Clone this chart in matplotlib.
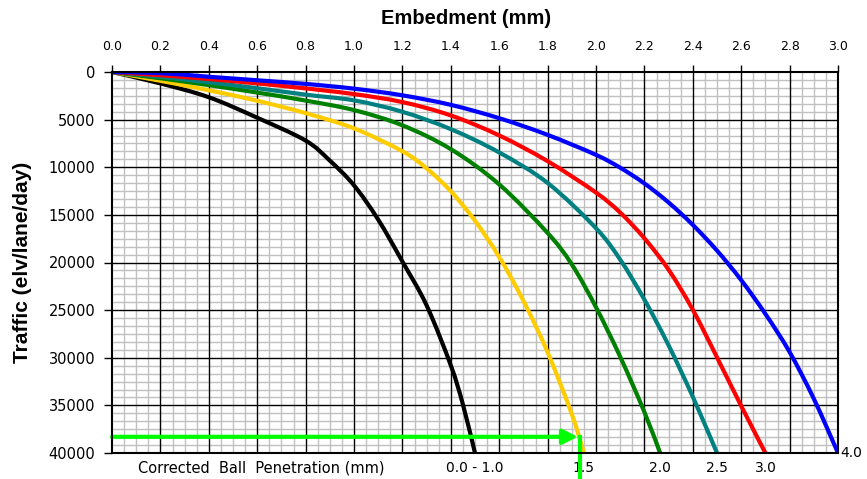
import numpy as np
import matplotlib
matplotlib.use('Agg')
import matplotlib.pyplot as plt
from matplotlib.ticker import MultipleLocator, FormatStrFormatter
from matplotlib.path import Path
from matplotlib.patches import PathPatch
import matplotlib.transforms as mtransforms

plt.rcParams['font.family'] = ['DejaVu Sans']

# embedment (mm) vs traffic for each ball penetration class
black_x = [0, 0.2, 0.4, 0.6, 0.8, 0.9, 1.0, 1.1, 1.2, 1.3, 1.4, 1.45, 1.5]
black_y = [0, 1200, 2650, 4800, 7200, 9300, 11900, 15500, 19900, 24500, 30800, 34900, 40000]

gold_x = [0, 0.2, 0.4, 0.6, 0.8, 1.0, 1.2, 1.3, 1.4, 1.5, 1.6, 1.7, 1.8, 1.9, 1.95]
gold_y = [0, 920, 1920, 3020, 4320, 5920, 8320, 10120, 12520, 15620, 19420, 24020, 29420, 35920, 40000]

green_x = [0, 0.2, 0.4, 0.6, 0.8, 1.0, 1.2, 1.4, 1.6, 1.8, 1.9, 2.0, 2.1, 2.2, 2.265]
green_y = [0, 660, 1380, 2160, 3000, 4000, 5600, 8100, 11800, 16900, 20200, 24700, 29900, 35700, 40000]

teal_x = [0, 0.2, 0.4, 0.6, 0.8, 1.0, 1.2, 1.4, 1.6, 1.8, 2.0, 2.1, 2.2, 2.3, 2.4, 2.5]
teal_y = [0, 500, 1080, 1700, 2380, 2980, 4180, 6000, 8450, 11650, 16400, 19700, 23900, 28700, 34100, 40000]

red_x = [0, 0.2, 0.4, 0.6, 0.8, 1.0, 1.2, 1.4, 1.6, 1.8, 2.0, 2.1, 2.2, 2.3, 2.4, 2.5, 2.6, 2.7]
red_y = [0, 340, 740, 1200, 1720, 2320, 3160, 4560, 6660, 9360, 12660, 14760, 17460, 20760, 24960, 29960, 35060, 40000]

blue_x = [0, 0.2, 0.4, 0.6, 0.8, 1.0, 1.2, 1.4, 1.6, 1.8, 2.0, 2.1, 2.2, 2.3, 2.4, 2.5, 2.6, 2.7, 2.8, 2.9, 3.0]
blue_y = [0, 120, 500, 870, 1250, 1750, 2450, 3450, 4850, 6600, 8700, 10050, 11700, 13700, 16050, 18750, 21850, 25400, 29400, 34300, 40000]

pen_labels = ['0.0 - 1.0', '1.5', '2.0', '2.5', '3.0', '4.0']

# example reading: 38300 elv/lane/day
example_traffic = 38300
example_embed = 1.935


def smooth_path(xs, ys):
    # excel-style smoothed line: bezier segments through the points
    p = np.column_stack([xs, ys]).astype(float)
    verts = [p[0]]
    codes = [Path.MOVETO]
    n = len(p)
    for i in range(n - 1):
        p0 = p[i - 1] if i > 0 else p[i]
        p3 = p[i + 2] if i + 2 < n else p[i + 1]
        c1 = p[i] + (p[i + 1] - p0) / 6
        c2 = p[i + 1] - (p3 - p[i]) / 6
        verts += [c1, c2, p[i + 1]]
        codes += [Path.CURVE4] * 3
    return Path(verts, codes)


fig = plt.figure(figsize=(8.67, 4.79), dpi=100, facecolor='white')
ax = fig.add_axes([112/867, 26/479, 726/867, 381/479])

ax.set_xlim(0, 3.0)
ax.set_ylim(40000, 0)

ax.xaxis.set_major_locator(MultipleLocator(0.2))
ax.xaxis.set_minor_locator(MultipleLocator(0.05))
ax.yaxis.set_major_locator(MultipleLocator(5000))
ax.yaxis.set_minor_locator(MultipleLocator(5000/6))
ax.xaxis.set_major_formatter(FormatStrFormatter('%.1f'))
ax.yaxis.set_major_formatter(FormatStrFormatter('%d'))

# gray minor grid, black major grid on top of it
ax.grid(which='minor', color='#c0c0c0', lw=1.0)
ax.set_axisbelow(True)
for v in np.arange(0.2, 2.9, 0.2):
    ax.axvline(v, color='black', lw=1.0, zorder=1)
for v in range(5000, 40000, 5000):
    ax.axhline(v, color='black', lw=1.0, zorder=1)

ax.xaxis.tick_top()
ax.xaxis.set_label_position('top')
ax.tick_params(axis='x', which='major', direction='out', length=5, width=1, pad=9, labelsize=9)
ax.tick_params(axis='y', which='major', direction='out', length=6, width=1, pad=6, labelsize=10.5)
ax.tick_params(which='minor', length=0)
for s in ax.spines.values():
    s.set_linewidth(1.5)
    s.set_color('black')
    s.set_zorder(5)

ax.set_xlabel('Embedment (mm)', fontsize=14.5, fontweight='bold', labelpad=10,
              family=['Liberation Sans', 'DejaVu Sans'])
ax.xaxis.set_label_coords(0.488, 1.125)
ax.set_ylabel('Traffic (elv/lane/day)', fontsize=15, fontweight='bold', labelpad=12,
              family=['Liberation Sans', 'DejaVu Sans'])

curves = [(black_x, black_y, 'black'), (gold_x, gold_y, '#ffcc00'),
          (green_x, green_y, '#008000'), (teal_x, teal_y, '#008080'),
          (red_x, red_y, '#ff0000'), (blue_x, blue_y, '#0000ff')]
for cx, cy, c in curves:
    ax.add_patch(PathPatch(smooth_path(cx, cy), facecolor='none', edgecolor=c,
                           lw=3, capstyle='butt', zorder=3))

# green example arrow
ax.annotate('', xy=(example_embed - 0.01, example_traffic), xytext=(0, example_traffic),
            arrowprops=dict(arrowstyle='-|>', color='#00ff00', lw=3, mutation_scale=22,
                            shrinkA=0, shrinkB=0), zorder=4)
ax.plot([example_embed, example_embed], [example_traffic, 42800], color='#00ff00',
        lw=3, clip_on=False, zorder=4)

trans = mtransforms.blended_transform_factory(ax.transData, ax.transAxes)
ax.text(0.616, -0.04, 'Corrected  Ball  Penetration (mm)', transform=trans,
        ha='center', va='center', fontsize=10.5)
for (cx, cy, c), lab in zip(curves[:-1], pen_labels[:-1]):
    ax.text(cx[-1], -0.04, lab, transform=trans, ha='center', va='center', fontsize=10)
ax.text(3.01, 0.0, pen_labels[-1], transform=trans, ha='left', va='center', fontsize=10)

fig.savefig('out.png', dpi=100, facecolor='white')
